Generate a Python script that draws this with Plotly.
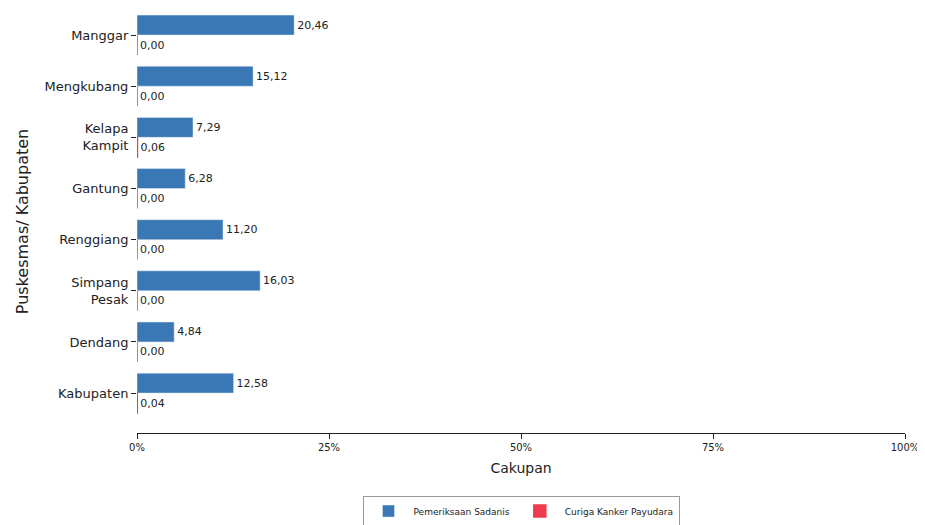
import plotly.graph_objects as go

categories = ["Manggar", "Mengkubang", "Kelapa<br>Kampit", "Gantung", "Renggiang",
              "Simpang<br>Pesak", "Dendang", "Kabupaten"]
sadanis = [20.46, 15.12, 7.29, 6.28, 11.20, 16.03, 4.84, 12.58]
curiga = [0.00, 0.00, 0.06, 0.00, 0.00, 0.00, 0.00, 0.04]
x_ticks = [0, 0.25, 0.5, 0.75, 1.0]
x_ticklabels = ["0%", "25%", "50%", "75%", "100%"]

def fmt(v):
    return f"{v:.2f}".replace(".", ",")

fig = go.Figure()
fig.add_trace(go.Bar(
    y=categories, x=[v / 100 for v in sadanis], orientation="h",
    name="Pemeriksaan Sadanis", marker=dict(color="#3A78B5"),
    text=[fmt(v) for v in sadanis], textposition="outside",
    textfont=dict(size=11, color="#222"), cliponaxis=False,
))
fig.add_trace(go.Bar(
    y=categories, x=[v / 100 for v in curiga], orientation="h",
    name="Curiga Kanker Payudara",
    marker=dict(color="#F03B4C", line=dict(color="#F03B4C", width=1.5)),
    text=[fmt(v) for v in curiga], textposition="outside",
    textfont=dict(size=11, color="#222"), cliponaxis=False,
))

fig.update_layout(
    width=917, height=517,
    margin=dict(l=129, r=20, t=2, b=92, autoexpand=False),
    paper_bgcolor="white", plot_bgcolor="white",
    barmode="group", bargap=0.22, bargroupgap=0,
    font=dict(family="DejaVu Sans", color="#222"),
    showlegend=True,
    legend=dict(orientation="h", x=0.5, xanchor="center", y=-0.148, yanchor="top",
                bordercolor="#999", borderwidth=1, font=dict(size=9),
                traceorder="normal", tracegroupgap=0, itemwidth=40),
    uniformtext=dict(minsize=8, mode="show"),
)
fig.update_xaxes(
    range=[0, 1], tickvals=x_ticks, ticktext=x_ticklabels,
    showgrid=False, zeroline=False, showline=True, linecolor="#222", linewidth=1,
    ticks="outside", ticklen=5, tickcolor="#222", tickfont=dict(size=10),
    title=dict(text="Cakupan", font=dict(size=14), standoff=11),
    automargin=False,
)
fig.update_yaxes(
    categoryorder="array", categoryarray=categories,
    range=[7.78, -0.49], autorange=False,
    showgrid=False, zeroline=False, showline=False,
    ticks="outside", ticklen=5, tickcolor="#222", tickfont=dict(size=13),
    title=dict(text="Puskesmas/ Kabupaten", font=dict(size=16), standoff=12),
    automargin=False,
)

fig.write_html("out.html")
